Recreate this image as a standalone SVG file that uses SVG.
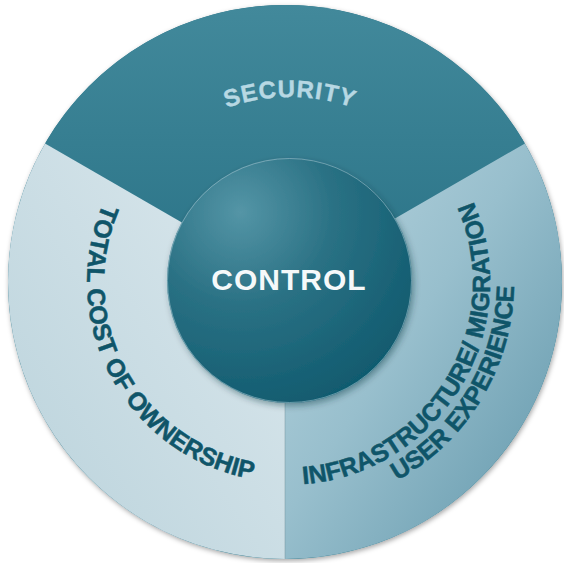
<svg xmlns="http://www.w3.org/2000/svg" width="564" height="563" viewBox="0 0 564 563">
  <defs>
    <linearGradient id="gTop" x1="0" y1="0" x2="0" y2="1">
      <stop offset="0" stop-color="#42899b"/>
      <stop offset="1" stop-color="#2a7387"/>
    </linearGradient>
    <linearGradient id="gLeft" x1="1" y1="0" x2="0" y2="1">
      <stop offset="0" stop-color="#dde9ee"/>
      <stop offset="1" stop-color="#b9d2db"/>
    </linearGradient>
    <linearGradient id="gRight" x1="0" y1="0" x2="1" y2="1">
      <stop offset="0" stop-color="#b9d5df"/>
      <stop offset="0.45" stop-color="#98bfcd"/>
      <stop offset="1" stop-color="#5f95a9"/>
    </linearGradient>
    <radialGradient id="gCore" cx="0.3" cy="0.22" r="0.85">
      <stop offset="0" stop-color="#5495a6"/>
      <stop offset="0.45" stop-color="#2a7184"/>
      <stop offset="1" stop-color="#105a6e"/>
    </radialGradient>
    <filter id="shadow" x="-10%" y="-10%" width="120%" height="120%">
      <feDropShadow dx="1" dy="2" stdDeviation="2.5" flood-color="#000" flood-opacity="0.35"/>
    </filter>
    <filter id="coreShadow" x="-15%" y="-15%" width="130%" height="130%">
      <feDropShadow dx="2" dy="3" stdDeviation="3" flood-color="#0b2e38" flood-opacity="0.4"/>
    </filter>
    <path id="pSecurity" d="M111.5,222 A190,190 0 0 1 468.5,222"/>
    <path id="pTco" d="M123.2,167.3 A200,200 0 0 0 294,481.9"/>
    <path id="pInfra" d="M251.8,481.9 A203,203 0 0 0 447,157"/>
    <path id="pUser" d="M247.6,505.6 A227,227 0 0 0 465.9,142.2"/>
  </defs>
  <style>
    text { font-family: "Liberation Sans", Arial, sans-serif; font-weight: bold; }
    .seg-label { font-size: 25px; fill: #0f5569; stroke: #0f5569; stroke-width: 0.5px; }
    .sec-label { font-size: 24px; fill: #b7d8e3; stroke: #b7d8e3; stroke-width: 0.4px; letter-spacing: 1px; }
    .core-label { font-size: 30px; fill: #f5f9fa; letter-spacing: 1px; }
  </style>

  <g id="ring" filter="url(#shadow)">
    <circle cx="285" cy="282" r="277" fill="#2a7387"/>
  </g>

  <g id="security">
    <path d="M285,282 L45.1,143.5 A277,277 0 0 1 524.9,143.5 Z" fill="url(#gTop)"/>
    <text class="sec-label" text-anchor="middle"><textPath href="#pSecurity" startOffset="50%">SECURITY</textPath></text>
  </g>

  <g id="infrastructure">
    <path d="M285,282 L524.9,143.5 A277,277 0 0 1 285,559 Z" fill="url(#gRight)"/>
    <text class="seg-label" text-anchor="middle"><textPath href="#pInfra" startOffset="50%">INFRASTRUCTURE/ MIGRATION</textPath></text>
    <text class="seg-label" text-anchor="middle"><textPath href="#pUser" startOffset="50%">USER EXPERIENCE</textPath></text>
  </g>

  <g id="tco">
    <path d="M285,282 L285,559 A277,277 0 0 1 45.1,143.5 Z" fill="url(#gLeft)"/>
    <text class="seg-label" text-anchor="middle"><textPath href="#pTco" startOffset="50%">TOTAL COST OF OWNERSHIP</textPath></text>
  </g>

  <g id="connectors">
    <line x1="285" y1="400" x2="285" y2="559" stroke="#6f8f9a" stroke-opacity="0.45" stroke-width="1"/>
  </g>

  <g id="control">
    <circle cx="289.5" cy="280.5" r="122.5" fill="url(#gCore)" filter="url(#coreShadow)"/>
    <circle cx="289.5" cy="280.5" r="122" fill="none" stroke="#9cc0cc" stroke-opacity="0.6" stroke-width="1"/>
    <text class="core-label" x="289" y="290" text-anchor="middle">CONTROL</text>
  </g>
</svg>
